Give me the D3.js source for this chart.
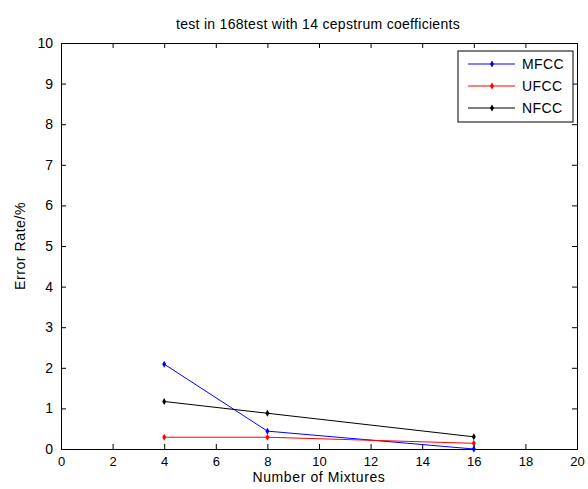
<!DOCTYPE html>
<html>
<head>
<meta charset="utf-8">
<script src="https://cdn.jsdelivr.net/npm/d3@7"></script>
<style>
  body { margin: 0; background: #fff; }
  text { font-family: "Liberation Sans", Arial, sans-serif; font-size: 14px; fill: #000; }
</style>
</head>
<body>
<div id="chart"></div>
<script>
// data
var mixtures = [4, 8, 16];
var mfcc = [2.09, 0.44, 0.0];
var ufcc = [0.29, 0.29, 0.14];
var nfcc = [1.17, 0.88, 0.30];
var seriesNames = ["MFCC", "UFCC", "NFCC"];
var seriesColors = ["#0000ff", "#ff0000", "#000000"];
var xTicks = [0, 2, 4, 6, 8, 10, 12, 14, 16, 18, 20];
var yTicks = [0, 1, 2, 3, 4, 5, 6, 7, 8, 9, 10];

var W = 588, H = 489;
var margin = {top: 43, right: 11, bottom: 40, left: 61},
    width = W - margin.left - margin.right,
    height = H - margin.top - margin.bottom;

var svg = d3.select("#chart").append("svg")
    .attr("width", W).attr("height", H);

var g = svg.append("g")
    .attr("transform", "translate(" + margin.left + "," + margin.top + ")");

var x = d3.scaleLinear().domain([0, 20]).range([0, width]);
var y = d3.scaleLinear().domain([0, 10]).range([height, 0]);

// axes, ticks pointing inwards like matlab
var tk = 5;
g.append("g").attr("class", "xax").attr("transform", "translate(0," + height + ")")
    .call(d3.axisBottom(x).tickValues(xTicks).tickSize(-tk).tickPadding(8));
g.append("g")
    .call(d3.axisTop(x).tickValues(xTicks).tickSize(-tk).tickFormat(""));
g.append("g")
    .call(d3.axisLeft(y).tickValues(yTicks).tickSize(-tk).tickPadding(8));
g.append("g").attr("transform", "translate(" + width + ",0)")
    .call(d3.axisRight(y).tickValues(yTicks).tickSize(-tk).tickFormat(""));

g.selectAll(".domain").attr("stroke", "#000").attr("stroke-width", 1);
g.selectAll(".tick line").attr("stroke", "#000");
g.selectAll(".tick text").style("font-size", "14px").attr("fill", "#000");
g.selectAll(".xax .tick text").style("font-size", "13px");

var allSeries = [mfcc, ufcc, nfcc];

var line = d3.line()
    .x(function (d, i) { return x(mixtures[i]); })
    .y(function (d) { return y(d); });

allSeries.forEach(function (vals, k) {
    g.append("path")
        .datum(vals)
        .attr("fill", "none")
        .attr("stroke", seriesColors[k])
        .attr("stroke-width", 1)
        .attr("d", line);
    g.selectAll(".pt" + k)
        .data(vals)
        .enter().append("path")
        .attr("d", d3.symbol().type(d3.symbolDiamond).size(14))
        .attr("transform", function (d, i) {
            return "translate(" + x(mixtures[i]) + "," + y(d) + ")";
        })
        .attr("fill", seriesColors[k]);
});

// legend
var leg = g.append("g").attr("transform", "translate(" + (width - 119) + ",8)");
leg.append("rect")
    .attr("width", 115).attr("height", 71)
    .attr("fill", "#fff").attr("stroke", "#000");
seriesNames.forEach(function (name, k) {
    var ly = 13 + k * 22;
    leg.append("line")
        .attr("x1", 10).attr("x2", 57)
        .attr("y1", ly).attr("y2", ly)
        .attr("stroke", seriesColors[k]);
    leg.append("path")
        .attr("d", d3.symbol().type(d3.symbolDiamond).size(14))
        .attr("transform", "translate(34," + ly + ")")
        .attr("fill", seriesColors[k]);
    leg.append("text")
        .attr("x", 64).attr("y", ly + 5)
        .style("letter-spacing", "0.4px")
        .text(name);
});

// title and labels
svg.append("text")
    .attr("x", margin.left + width / 2 - 1).attr("y", 29)
    .attr("text-anchor", "middle")
    .style("letter-spacing", "0.3px")
    .text("test in 168test with 14 cepstrum coefficients");
svg.append("text")
    .attr("x", margin.left + width / 2).attr("y", 482)
    .attr("text-anchor", "middle")
    .style("letter-spacing", "0.6px")
    .text("Number of Mixtures");
svg.append("text")
    .attr("transform", "translate(25," + (margin.top + height / 2) + ") rotate(-90)")
    .attr("text-anchor", "middle")
    .style("letter-spacing", "0.6px")
    .text("Error Rate/%");
</script>
</body>
</html>
